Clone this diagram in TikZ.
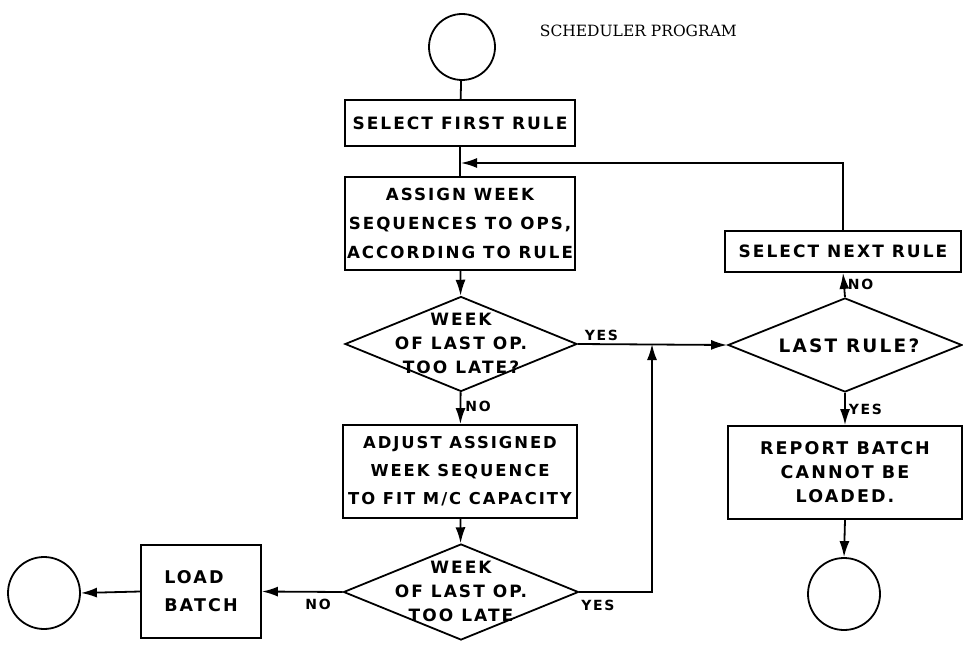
\documentclass[tikz,border=0pt]{standalone}
\usepackage{fontspec}
\usetikzlibrary{shapes.geometric,arrows.meta}
\newfontfamily\hand[LetterSpace=12]{DejaVu Sans}
\newfontfamily\titlefont{DejaVu Serif}
\begin{document}
\begin{tikzpicture}[x=1pt,y=-1pt,
  line width=1.8pt,
  every node/.style={inner sep=0pt},
  term/.style={circle,draw,minimum size=70pt},
  box/.style={rectangle,draw,align=center,font=\hand\bfseries\fontsize{17}{28}\selectfont},
  dec/.style={diamond,draw},
  dtext/.style={align=center,font=\hand\bfseries\fontsize{17}{24}\selectfont},
  lbl/.style={font=\hand\bfseries\fontsize{14}{16}\selectfont},
  arr/.style={-{Latex[length=16pt,width=10pt]}}]
\useasboundingbox (0,0) rectangle (963,650);
\node[term,minimum size=66pt] (start) at (462,47) {};
\node[font=\titlefont\fontsize{15.5}{18}\selectfont,anchor=west] (title) at (539,31) {SCHEDULER PROGRAM};
\node[box,minimum width=230pt,minimum height=46pt] (sfr) at (460,123) {SELECT FIRST RULE};
\node[box,minimum width=230pt,minimum height=93pt,font=\hand\bfseries\fontsize{16.7}{29}\selectfont] (assign) at (460,223.5) {ASSIGN WEEK\\SEQUENCES TO OPS,\\ACCORDING TO RULE};
\node[dec,minimum width=232pt,minimum height=95pt] (d1) at (461,344) {};
\node[dtext] (t1) at (461,343) {WEEK\\OF LAST OP.\\TOO LATE?};
\node[box,minimum width=234pt,minimum height=93pt,font=\hand\bfseries\fontsize{16.4}{28}\selectfont] (adjust) at (460,471.5) {ADJUST ASSIGNED\\WEEK SEQUENCE\\TO FIT M/C CAPACITY};
\node[dec,minimum width=235pt,minimum height=96pt] (d2) at (461,592) {};
\node[dtext] (t2) at (461,591) {WEEK\\OF LAST OP.\\TOO LATE};
\node[box,minimum width=120pt,minimum height=93pt,align=left,font=\hand\bfseries\fontsize{17.5}{28}\selectfont] (load) at (201,591.5) {LOAD\\BATCH};
\node[term,minimum size=72pt] (endL) at (44,593) {};
\node[box,minimum width=236pt,minimum height=41pt] (snr) at (843,251.5) {SELECT NEXT RULE};
\node[dec,minimum width=234pt,minimum height=94pt] (d3) at (845,345) {};
\node[dtext,font=\hand\bfseries\fontsize{18.5}{20}\selectfont] (t3) at (849,346) {LAST RULE?};
\node[box,minimum width=234pt,minimum height=93pt,font=\hand\bfseries\fontsize{17.5}{24}\selectfont] (report) at (845,472.5) {REPORT BATCH\\CANNOT BE\\LOADED.};
\node[term,minimum size=72pt] (endR) at (844,594) {};
\coordinate (j1) at (461,163);
\coordinate (j2) at (652,344);
\coordinate (c2) at (652,592);
% connectors
\draw (start) -- (sfr);
\draw (sfr) -- (assign);
\draw[arr] (snr.north) |- (j1);
\draw[arr] (assign) -- (d1);
\draw[arr] (d1) -- node[lbl,anchor=west,xshift=4pt,yshift=2pt] {NO} (adjust);
\draw[arr] (d1.east) -- (d3.west);
\node[lbl,anchor=south west] at ([xshift=6pt,yshift=2pt]d1.east) {YES};
\draw[arr] (adjust) -- (d2);
\draw[arr] (d2.east) -- (c2) -- (j2);
\node[lbl,anchor=north west] at ([xshift=1pt,yshift=-7pt]d2.east) {YES};
\draw[arr] (d2.west) -- (load.east);
\node[lbl,anchor=north east] at ([xshift=-11pt,yshift=-6pt]d2.west) {NO};
\draw[arr] (load.west) -- (endL.east);
\draw[arr] (d3.north) -- node[lbl,anchor=west,xshift=3pt,yshift=1pt] {NO} (snr.south);
\draw[arr] (d3.south) -- node[lbl,anchor=west,xshift=3pt] {YES} (report.north);
\draw[arr] (report.south) -- (endR.north);
\end{tikzpicture}
\end{document}
